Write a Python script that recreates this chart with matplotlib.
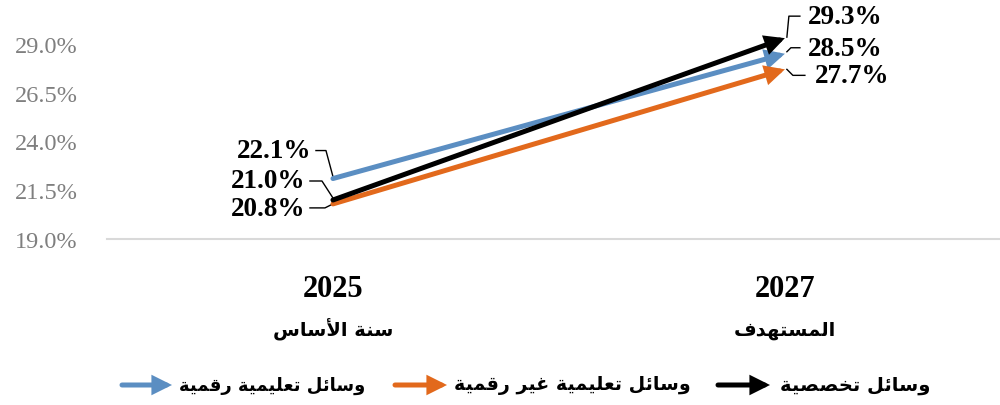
import matplotlib
matplotlib.use("Agg")
import matplotlib.pyplot as plt
from matplotlib.transforms import Affine2D

# ---------------- data ----------------
categories = ["2025", "2027"]
category_sub = ["سنة الأساس", "المستهدف"]
series_names = ["وسائل تعليمية رقمية", "وسائل تعليمية غير رقمية", "وسائل تخصصية"]
digital = [22.1, 28.5]
non_digital = [20.8, 27.7]
specialized = [21.0, 29.3]
yticks = [19.0, 21.5, 24.0, 26.5, 29.0]

# ---------------- arabic shaping (presentation forms) ----------------
FORMS = {  # iso, fin, ini, med  (None -> right-joining only)
    'ا': ('\uFE8D', '\uFE8E', None, None),
    'أ': ('\uFE83', '\uFE84', None, None),
    'ة': ('\uFE93', '\uFE94', None, None),
    'د': ('\uFEA9', '\uFEAA', None, None),
    'ر': ('\uFEAD', '\uFEAE', None, None),
    'و': ('\uFEED', '\uFEEE', None, None),
    'ئ': ('\uFE89', '\uFE8A', '\uFE8B', '\uFE8C'),
    'ت': ('\uFE95', '\uFE96', '\uFE97', '\uFE98'),
    'خ': ('\uFEA5', '\uFEA6', '\uFEA7', '\uFEA8'),
    'س': ('\uFEB1', '\uFEB2', '\uFEB3', '\uFEB4'),
    'ص': ('\uFEB9', '\uFEBA', '\uFEBB', '\uFEBC'),
    'ع': ('\uFEC9', '\uFECA', '\uFECB', '\uFECC'),
    'غ': ('\uFECD', '\uFECE', '\uFECF', '\uFED0'),
    'ف': ('\uFED1', '\uFED2', '\uFED3', '\uFED4'),
    'ق': ('\uFED5', '\uFED6', '\uFED7', '\uFED8'),
    'ل': ('\uFEDD', '\uFEDE', '\uFEDF', '\uFEE0'),
    'م': ('\uFEE1', '\uFEE2', '\uFEE3', '\uFEE4'),
    'ن': ('\uFEE5', '\uFEE6', '\uFEE7', '\uFEE8'),
    'ه': ('\uFEE9', '\uFEEA', '\uFEEB', '\uFEEC'),
    'ي': ('\uFEF1', '\uFEF2', '\uFEF3', '\uFEF4'),
}
LAMALEF = {'ا': ('\uFEFB', '\uFEFC'), 'أ': ('\uFEF7', '\uFEF8')}


def dual(c):
    return c in FORMS and FORMS[c][2] is not None


def shape(text):
    out = []
    i = 0
    n = len(text)
    while i < n:
        c = text[i]
        if c not in FORMS:
            out.append(c)
            i += 1
            continue
        prev = text[i - 1] if i > 0 else None
        jp = prev is not None and dual(prev)
        if c == 'ل' and i + 1 < n and text[i + 1] in LAMALEF:
            out.append(LAMALEF[text[i + 1]][1 if jp else 0])
            i += 2
            continue
        nxt = text[i + 1] if i + 1 < n else None
        jn = dual(c) and nxt is not None and nxt in FORMS
        iso, fin, ini, med = FORMS[c]
        if jp and jn:
            out.append(med)
        elif jp:
            out.append(fin)
        elif jn:
            out.append(ini)
        else:
            out.append(iso)
        i += 1
    return ''.join(out)[::-1]


# ---------------- figure ----------------
W, H = 1000, 406
fig = plt.figure(figsize=(W / 100, H / 100), dpi=100)
ax = fig.add_axes([107 / W, (H - 240) / H, (1000 - 107) / W, 234 / H])
ax.set_ylim(19, 31)
ax.set_xlim(-0.5, 1.476)

serif = "Liberation Serif"
arabic = ["DejaVu Sans"]
colors = ["#5b8ec2", "#e2691c", "#000000"]
series = [digital, non_digital, specialized]
x = [0, 1]
ARROW = "-|>,head_length=0.5,head_width=0.25"

for vals, col in zip(series, colors):
    ax.annotate("", xy=(x[1], vals[1]), xytext=(x[0], vals[0]),
                arrowprops=dict(arrowstyle=ARROW, lw=3.6, color=col,
                                shrinkA=0, shrinkB=0, mutation_scale=18,
                                joinstyle="miter"))

# spines / ticks
for s in ["top", "right", "left"]:
    ax.spines[s].set_visible(False)
ax.spines["bottom"].set_color("#d9d9d9")
ax.spines["bottom"].set_linewidth(1.5)
ax.set_yticks(yticks)
ax.set_yticklabels([f"{v:.1f}%" for v in yticks], family=serif, fontsize=17.5,
                   color="#7f7f7f")
ax.tick_params(axis="y", length=0, pad=21)
ax.set_xticks(x)
ax.set_xticklabels(categories, family=serif, fontsize=22, fontweight="bold")
ax.tick_params(axis="x", length=0, pad=25)
for xi, sub in zip(x, category_sub):
    ax.annotate(shape(sub), xy=(xi, 0), xycoords=("data", "axes fraction"),
                xytext=(0, -90), textcoords="offset pixels", ha="center",
                va="center", family=arabic, fontsize=14, fontweight="bold")

# data labels with leader lines (offsets in pixels relative to the point)
label_layout = [
    # (series index, point index, text offset, ha, leader vertices)
    (0, 0, (-22, 28), "right", [(-17, 28), (-7, 28), (0, 2)]),
    (2, 0, (-28, 19), "right", [(-23, 19), (-11, 19), (0, 2)]),
    (1, 0, (-28, -5), "right", [(-23, -4), (-8, -4), (0, 0)]),
    (2, 1, (23, 22), "left", [(2, 1), (4, 22), (15, 22)]),
    (0, 1, (23, 5), "left", [(2, 2), (6, 6), (15, 6)]),
    (1, 1, (30, -6), "left", [(2, 0), (8, -6), (20, -6)]),
]
for si, pi, toff, ha, verts in label_layout:
    v = series[si][pi]
    ax.annotate(f"{v:.1f}%", xy=(x[pi], v), xytext=toff,
                textcoords="offset pixels", ha=ha, va="center", family=serif,
                fontsize=19.5, fontweight="bold")
    px, py = ax.transData.transform((x[pi], v))
    tr = Affine2D().translate(px, py)
    xs = [a for a, b in verts]
    ys = [b for a, b in verts]
    ax.add_line(matplotlib.lines.Line2D(xs, ys, transform=tr, color="black",
                                        lw=1.0, clip_on=False))

# legend (manual, right-to-left)
legend_layout = [
    # (series index, arrow x0, arrow x1, text center, fontsize)
    (0, 122, 172, 272, 13),
    (1, 395, 447, 572, 13.7),
    (2, 718, 770, 855, 14),
]
ly = H - 386
for si, x0, x1, tc, fs in legend_layout:
    fig.add_artist(matplotlib.patches.FancyArrowPatch(
        (x0, ly), (x1, ly), transform=None,
        arrowstyle=ARROW, mutation_scale=18, joinstyle="miter",
        lw=3.6, color=colors[si], shrinkA=0, shrinkB=0))
    fig.text(tc / W, ly / H, shape(series_names[si]), ha="center", va="center",
             family=arabic, fontsize=fs, fontweight="bold")

fig.savefig("out.png", dpi=100)
